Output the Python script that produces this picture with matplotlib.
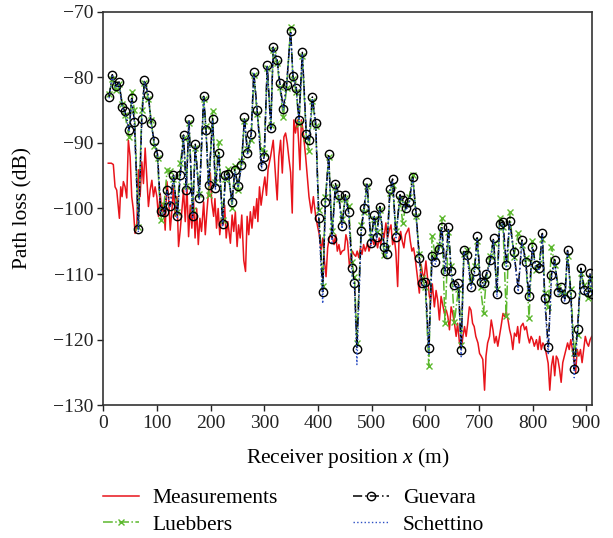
import matplotlib
matplotlib.use("Agg")
import matplotlib.pyplot as plt
from matplotlib.lines import Line2D

# ---------------- data ----------------
model_x = [10.7, 16.8, 23.0, 29.3, 35.5, 40.6, 48.0, 53.0, 58.0, 65.4,
           71.7, 76.6, 84.0, 89.2, 94.8, 101.0, 107.0, 113.0, 119.0, 124.7,
           130.8, 137.8, 143.4, 149.5, 154.6, 159.6, 166.4, 171.4, 178.9, 187.0,
           191.3, 196.3, 203.7, 208.8, 215.0, 222.4, 227.5, 232.5, 240.0, 244.9,
           251.2, 257.4, 263.0, 268.6, 275.5, 280.4, 286.7, 294.8, 299.8, 305.4,
           312.1, 316.5, 324.0, 329.0, 335.3, 341.5, 349.0, 353.3, 359.6, 364.5,
           370.8, 378.3, 383.2, 389.5, 395.7, 401.5, 408.8, 413.8, 420.0, 426.0,
           432.5, 438.7, 444.9, 451.0, 457.0, 463.6, 468.0, 472.5, 480.5, 485.5,
           491.5, 498.5, 504.7, 509.2, 515.3, 523.4, 527.9, 534.0, 539.0, 545.2,
           552.7, 557.8, 564.0, 570.0, 576.4, 582.6, 588.8, 593.8, 600.0, 606.4,
           612.5, 618.7, 625.0, 630.7, 636.5, 643.0, 648.0, 654.2, 661.7, 666.7,
           671.8, 678.0, 685.4, 691.6, 696.6, 702.8, 708.4, 713.5, 721.0, 727.0,
           733.5, 738.3, 744.7, 750.8, 757.0, 765.0, 773.0, 780.0, 787.0, 793.3,
           799.4, 805.6, 812.0, 818.0, 822.4, 829.0, 835.0, 841.0, 847.5, 853.6,
           859.8, 864.9, 871.0, 877.4, 883.6, 889.7, 896.0, 902.3, 906.5, 911.0]

guevara = [-83.0, -79.6, -81.4, -80.7, -84.5, -85.2, -88.0, -83.2, -86.8, -103.1,
           -86.3, -80.4, -82.7, -87.0, -89.7, -91.7, -100.4, -100.6, -97.2, -99.6,
           -94.9, -101.2, -94.9, -88.8, -97.2, -86.4, -101.2, -90.2, -98.4, -82.9,
           -88.0, -96.4, -86.3, -96.9, -91.5, -102.4, -94.9, -94.7, -99.0, -94.1,
           -96.6, -93.4, -86.1, -91.6, -88.6, -79.2, -85.0, -93.6, -92.1, -78.1,
           -87.8, -75.4, -77.4, -80.9, -84.8, -81.2, -72.9, -79.8, -81.6, -86.5,
           -76.2, -88.7, -89.5, -83.0, -86.9, -101.5, -112.7, -99.0, -91.7, -104.7,
           -96.2, -97.9, -102.7, -97.9, -100.5, -109.0, -111.4, -121.4, -103.4, -100.0,
           -96.0, -105.3, -101.0, -104.4, -99.7, -105.8, -106.9, -97.1, -95.5, -104.3,
           -97.9, -98.7, -100.0, -99.0, -95.2, -100.5, -107.6, -111.3, -111.2, -121.3,
           -107.2, -108.1, -106.2, -102.8, -109.5, -102.9, -109.5, -111.7, -111.4, -121.6,
           -106.3, -107.1, -111.9, -109.5, -104.2, -111.2, -111.4, -110.0, -107.9, -104.5,
           -113.0, -102.3, -102.0, -108.6, -101.9, -106.6, -112.2, -104.8, -108.2, -113.4,
           -105.8, -108.6, -109.1, -103.8, -113.7, -121.1, -110.1, -107.8, -112.7, -112.0,
           -113.8, -106.4, -113.0, -124.5, -118.3, -109.1, -112.4, -112.7, -109.8, -113.0]

luebbers = [-82.6, -80.3, -82.0, -81.0, -84.0, -85.8, -89.1, -82.3, -85.0, -102.8,
            -85.0, -80.8, -83.3, -86.5, -90.5, -92.3, -101.8, -99.5, -94.1, -94.3,
            -95.5, -100.5, -93.1, -89.3, -96.5, -86.9, -100.2, -90.8, -97.8, -83.3,
            -87.4, -98.0, -85.1, -96.0, -89.9, -101.8, -95.5, -94.0, -99.9, -93.5,
            -97.2, -92.8, -86.7, -91.0, -89.6, -79.7, -85.6, -91.0, -91.5, -78.6,
            -87.2, -75.9, -77.9, -81.5, -86.1, -81.7, -72.4, -80.3, -82.2, -87.1,
            -76.7, -89.3, -91.3, -83.6, -87.5, -100.2, -111.8, -98.2, -92.2, -103.5,
            -96.7, -98.5, -101.6, -98.4, -99.6, -108.2, -110.5, -120.5, -102.5, -100.6,
            -96.6, -104.3, -101.6, -103.6, -100.3, -107.1, -106.0, -97.7, -96.4, -103.5,
            -98.5, -102.2, -99.3, -98.2, -94.9, -101.1, -106.9, -110.6, -112.0, -124.0,
            -104.2, -107.3, -105.5, -101.5, -117.4, -103.6, -108.8, -117.3, -112.2, -120.8,
            -107.0, -106.3, -111.0, -108.7, -105.0, -112.0, -116.0, -110.8, -107.2, -105.3,
            -112.2, -101.5, -102.8, -116.4, -100.5, -107.4, -103.8, -105.5, -107.5, -116.7,
            -105.0, -109.4, -108.3, -104.6, -112.9, -115.0, -105.8, -108.6, -111.9, -112.8,
            -113.0, -107.2, -112.2, -122.0, -119.3, -109.9, -111.6, -113.7, -110.6, -112.3]

schettino = [-83.2, -79.8, -81.6, -80.9, -84.7, -85.4, -88.3, -83.4, -87.0, -103.6,
             -86.5, -80.6, -82.9, -87.2, -89.9, -91.9, -100.8, -100.9, -97.4, -99.9,
             -95.1, -101.6, -95.1, -89.0, -97.5, -86.6, -101.6, -90.4, -98.7, -83.1,
             -88.2, -96.7, -86.5, -97.2, -91.7, -102.8, -95.1, -94.9, -99.3, -94.3,
             -96.9, -93.6, -86.3, -91.9, -88.8, -79.4, -85.2, -93.9, -92.4, -78.3,
             -88.0, -75.6, -77.6, -81.1, -85.0, -81.4, -73.1, -80.0, -81.8, -86.8,
             -76.4, -89.0, -89.8, -83.2, -87.2, -102.0, -114.5, -99.3, -92.0, -105.2,
             -96.5, -98.2, -103.1, -98.2, -100.9, -110.5, -112.0, -123.8, -103.7, -100.3,
             -96.3, -105.7, -101.3, -104.8, -100.0, -106.2, -107.3, -97.4, -95.8, -104.7,
             -98.2, -99.0, -100.3, -99.3, -95.5, -100.9, -108.1, -111.8, -111.7, -122.2,
             -107.5, -108.5, -106.5, -103.1, -110.0, -103.2, -110.0, -112.2, -111.8, -122.6,
             -106.6, -107.5, -112.4, -110.0, -104.5, -111.7, -111.9, -110.4, -108.2, -104.8,
             -113.5, -102.6, -102.3, -109.1, -102.2, -107.0, -112.7, -105.1, -108.6, -113.9,
             -106.1, -109.0, -109.5, -104.1, -114.2, -122.3, -110.5, -108.1, -113.2, -112.4,
             -114.3, -106.7, -113.5, -125.8, -118.9, -109.5, -112.9, -113.2, -110.1, -113.5]

meas_x = [9.3, 15.0, 18.7, 21.9, 25.0, 30.0, 32.5, 35.0, 37.4, 40.6,
          43.7, 46.7, 50.0, 53.0, 56.0, 59.2, 62.4, 65.4, 68.6, 71.8,
          74.8, 78.0, 81.0, 84.1, 87.3, 90.5, 93.5, 96.6, 99.8, 102.8,
          106.0, 109.2, 112.1, 115.3, 118.5, 121.5, 124.7, 127.9, 130.8, 134.0,
          137.2, 140.2, 143.4, 146.5, 149.5, 152.7, 155.9, 158.9, 162.0, 165.0,
          168.0, 171.0, 174.0, 177.0, 180.0, 183.0, 187.0, 190.0, 193.0, 196.0,
          199.4, 202.0, 205.6, 208.0, 211.0, 214.0, 217.0, 220.0, 223.0, 226.0,
          229.0, 232.0, 236.8, 240.0, 243.0, 246.0, 249.3, 252.0, 255.0, 258.0,
          261.7, 265.0, 268.0, 271.0, 274.0, 277.0, 280.4, 283.0, 286.0, 288.0,
          291.0, 294.0, 297.0, 301.0, 304.0, 307.0, 311.6, 316.6, 321.0, 324.0,
          327.0, 330.3, 333.5, 336.5, 339.6, 342.8, 346.0, 349.0, 352.0, 355.0,
          358.0, 361.5, 364.0, 366.4, 369.0, 372.0, 377.0, 380.0, 383.2, 387.7,
          391.4, 395.7, 399.4, 402.0, 405.6, 409.0, 411.9, 415.0, 418.0, 421.0,
          424.3, 427.0, 430.0, 433.0, 436.0, 439.0, 442.0, 445.0, 449.3, 452.0,
          455.0, 458.7, 461.0, 464.0, 467.0, 470.4, 473.0, 476.0, 479.0, 482.0,
          485.0, 488.0, 492.3, 495.0, 498.0, 501.0, 504.0, 507.8, 511.0, 514.0,
          517.0, 520.0, 523.0, 526.5, 529.5, 532.7, 536.0, 539.0, 542.0, 545.0,
          548.4, 551.0, 554.0, 557.0, 560.0, 563.0, 566.0, 569.0, 572.0, 575.0,
          578.0, 581.0, 584.5, 588.8, 592.0, 595.0, 598.0, 601.0, 604.0, 607.5,
          610.0, 613.0, 616.8, 620.0, 623.0, 626.2, 629.3, 632.0, 635.5, 639.0,
          642.0, 644.9, 648.0, 651.0, 654.2, 657.4, 660.0, 663.6, 667.0, 670.0,
          673.0, 676.0, 679.0, 682.0, 685.0, 688.0, 691.0, 694.0, 698.0, 701.0,
          704.0, 707.0, 710.3, 713.0, 716.0, 719.6, 722.8, 726.0, 729.0, 732.0,
          735.0, 738.0, 741.0, 744.7, 748.0, 750.8, 754.0, 757.0, 760.0, 763.0,
          766.0, 769.5, 772.0, 775.0, 778.0, 782.0, 785.0, 788.0, 791.0, 794.0,
          797.0, 800.0, 803.0, 807.0, 810.0, 813.0, 816.0, 819.0, 822.0, 825.0,
          828.8, 831.8, 835.0, 838.0, 841.0, 844.0, 847.0, 850.0, 853.0, 856.0,
          859.0, 862.0, 865.0, 868.0, 871.0, 874.0, 877.0, 880.0, 883.0, 886.0,
          889.0, 892.0, 895.0, 898.0, 901.0, 904.0, 907.0, 910.0]

meas_y = [-93.1, -93.1, -93.3, -96.7, -97.2, -101.5, -96.7, -98.2, -95.9, -96.7,
          -98.4, -89.6, -92.1, -98.2, -100.2, -103.8, -102.8, -94.1, -98.2, -92.9,
          -96.2, -90.8, -95.2, -99.7, -97.2, -95.7, -98.2, -96.7, -98.2, -101.2,
          -97.7, -100.5, -99.2, -103.3, -95.9, -98.2, -103.3, -100.2, -96.7, -101.2,
          -98.2, -105.8, -103.3, -100.2, -97.2, -102.0, -96.7, -104.3, -99.5, -103.0,
          -98.5, -104.5, -100.0, -105.5, -101.5, -103.5, -99.0, -104.0, -100.5, -97.5,
          -94.6, -99.0, -101.2, -98.5, -103.0, -100.0, -104.0, -101.5, -102.5, -99.5,
          -104.5, -102.0, -105.3, -101.0, -103.5, -100.5, -105.8, -102.5, -104.5, -101.0,
          -107.9, -109.6, -101.2, -104.0, -100.5, -103.0, -99.7, -101.5, -98.5, -102.0,
          -96.7, -99.5, -97.5, -95.2, -98.0, -94.0, -92.1, -89.6, -95.2, -98.7,
          -92.1, -89.6, -94.6, -89.1, -88.5, -90.1, -92.5, -94.5, -100.7, -86.5,
          -88.5, -86.5, -90.0, -94.1, -86.5, -88.0, -92.1, -95.0, -98.2, -100.7,
          -98.2, -101.2, -102.8, -103.8, -106.3, -104.5, -107.9, -110.4, -106.0, -104.5,
          -103.8, -104.5, -105.5, -104.0, -106.5, -105.5, -107.0, -106.5, -106.3, -104.0,
          -105.0, -108.9, -107.5, -106.5, -107.0, -107.3, -106.5, -107.5, -106.0, -107.0,
          -105.5, -106.5, -105.3, -106.5, -105.5, -104.5, -105.5, -104.8, -106.0, -104.5,
          -105.5, -103.5, -104.5, -102.2, -104.5, -103.3, -102.5, -105.5, -104.5, -106.5,
          -111.9, -104.5, -103.5, -105.0, -106.0, -104.0, -103.5, -103.0, -105.0, -106.5,
          -106.0, -107.5, -109.9, -112.9, -108.5, -110.0, -110.5, -108.0, -110.5, -113.4,
          -114.0, -111.5, -115.0, -112.5, -114.0, -117.0, -113.4, -114.5, -116.0, -115.5,
          -116.5, -118.5, -115.0, -116.0, -117.5, -119.5, -117.5, -120.5, -121.5, -119.5,
          -118.0, -119.5, -117.5, -115.0, -115.5, -117.5, -118.0, -119.5, -120.5, -122.1,
          -122.5, -123.0, -127.7, -122.5, -120.5, -119.5, -117.0, -118.5, -120.5, -119.5,
          -121.0, -119.5, -118.0, -116.0, -116.5, -115.7, -117.0, -118.5, -119.5, -121.5,
          -119.0, -119.5, -118.0, -120.5, -118.0, -117.5, -118.5, -118.0, -119.5, -120.5,
          -119.5, -120.0, -121.0, -120.0, -121.5, -119.5, -121.5, -120.5, -121.0, -122.0,
          -123.6, -127.7, -124.0, -122.5, -125.5, -122.5, -123.0, -124.5, -126.5, -123.5,
          -122.5, -121.5, -120.5, -121.5, -120.0, -121.5, -123.0, -125.0, -121.5, -122.5,
          -121.5, -123.5, -121.5, -119.5, -120.5, -121.0, -120.0, -119.5]

x_ticks = [0, 100, 200, 300, 400, 500, 600, 700, 800, 900]
y_ticks = [-130, -120, -110, -100, -90, -80, -70]

# ---------------- style ----------------
plt.rcParams['font.family'] = ['Liberation Serif', 'DejaVu Serif']
plt.rcParams['mathtext.fontset'] = 'custom'
plt.rcParams['mathtext.rm'] = 'Liberation Serif'
plt.rcParams['mathtext.it'] = 'Liberation Serif:italic'

RED = '#e8141b'
GREEN = '#5cb82e'
BLUE = '#2c4fc4'

fig = plt.figure(figsize=(6.13, 5.38), dpi=100)
ax = fig.add_axes([0.1685, 0.2467, 0.7977, 0.7316])

ax.plot(meas_x, meas_y, color=RED, lw=1.1, zorder=2)
ax.plot(model_x, luebbers, color=GREEN, lw=1.1, ls='-.', marker='x',
        ms=5, mew=1.0, zorder=3)
ax.plot(model_x, guevara, color='black', lw=1.1, ls=(0, (6, 2, 1, 2)),
        marker='o', ms=6, mfc='none', mew=1.0, zorder=4)
ax.plot(model_x, schettino, color=BLUE, lw=1.0, ls=':', zorder=5)

ax.set_xlim(0, 911)
ax.set_ylim(-130, -70)
ax.set_xticks(x_ticks)
ax.set_yticks(y_ticks)
ax.tick_params(direction='out', length=4, width=1.0, labelsize=14,
               top=False, right=False, colors='#222222', pad=3)
for s in ax.spines.values():
    s.set_linewidth(1.2)
    s.set_color('#333333')

ax.set_xlabel('Receiver position $x$ (m)', fontsize=15.5, labelpad=10)
ax.set_ylabel('Path loss (dB)', fontsize=15.5, labelpad=15)

handles = [
    Line2D([], [], color=RED, lw=1.1),
    Line2D([], [], color=GREEN, lw=1.1, ls='-.', marker='x', ms=5, mew=1.0),
    Line2D([], [], color='black', lw=1.1, ls=(0, (6, 2, 1, 2)), marker='o',
           ms=6, mfc='none', mew=1.0),
    Line2D([], [], color=BLUE, lw=1.0, ls=':'),
]
labels = ['Measurements', 'Luebbers', 'Guevara', 'Schettino']
fig.legend(handles, labels, ncol=2, loc='upper left',
           bbox_to_anchor=(103 / 613, 1 - 488 / 538), frameon=False,
           fontsize=15.5, handlelength=1.65, handletextpad=0.65,
           columnspacing=3.5, labelspacing=0.3, borderaxespad=0,
           borderpad=0)

fig.savefig('out.png', dpi=100)
